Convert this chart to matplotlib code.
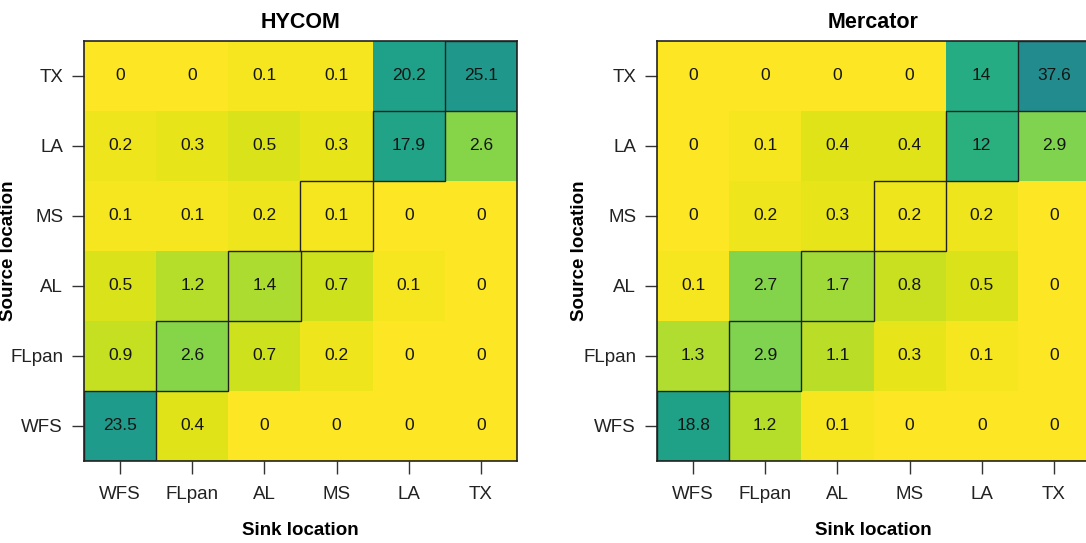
import numpy as np
import matplotlib
matplotlib.use("Agg")
import matplotlib.pyplot as plt
from matplotlib.colors import ListedColormap, FuncNorm
from matplotlib.patches import Rectangle

plt.rcParams['font.family'] = ['Liberation Sans', 'DejaVu Sans']

locations = ["WFS", "FLpan", "AL", "MS", "LA", "TX"]

# rows ordered bottom (WFS) to top (TX); columns WFS..TX
hycom_wfs = [23.5, 0.4, 0, 0, 0, 0]
hycom_flpan = [0.9, 2.6, 0.7, 0.2, 0, 0]
hycom_al = [0.5, 1.2, 1.4, 0.7, 0.1, 0]
hycom_ms = [0.1, 0.1, 0.2, 0.1, 0, 0]
hycom_la = [0.2, 0.3, 0.5, 0.3, 17.9, 2.6]
hycom_tx = [0, 0, 0.1, 0.1, 20.2, 25.1]

merc_wfs = [18.8, 1.2, 0.1, 0, 0, 0]
merc_flpan = [1.3, 2.9, 1.1, 0.3, 0.1, 0]
merc_al = [0.1, 2.7, 1.7, 0.8, 0.5, 0]
merc_ms = [0, 0.2, 0.3, 0.2, 0.2, 0]
merc_la = [0, 0.1, 0.4, 0.4, 12, 2.9]
merc_tx = [0, 0, 0, 0, 14, 37.6]

panels = [
    ("HYCOM", np.array([hycom_wfs, hycom_flpan, hycom_al, hycom_ms, hycom_la, hycom_tx])),
    ("Mercator", np.array([merc_wfs, merc_flpan, merc_al, merc_ms, merc_la, merc_tx])),
]

base = plt.get_cmap("viridis")
cmap = ListedColormap(base(np.linspace(1.0, 0.48, 256)))
vmax = 37.6
norm = FuncNorm((np.log1p, np.expm1), vmin=0, vmax=vmax)

fig = plt.figure(figsize=(10.86, 5.43), dpi=100)
W, H = 1086, 543
boxes = [(84, 41, 433, 420), (657, 41, 433, 420)]
ylabel_x = [17, 588]

for (title, data), (x0, y0, w, h), yl in zip(panels, boxes, ylabel_x):
    ax = fig.add_axes([x0 / W, 1 - (y0 + h) / H, w / W, h / H])
    n = len(locations)
    edges = np.arange(n + 1) - 0.5
    ax.pcolormesh(edges, edges, data, cmap=cmap, norm=norm, shading="flat")
    for i in range(n):
        for j in range(n):
            ax.text(j, i, f"{data[i, j]:g}", ha="center", va="center",
                    fontsize=12.5, color="#151515")
        ax.add_patch(Rectangle((i - 0.5, i - 0.5), 1, 1, fill=False,
                               edgecolor="#222222", linewidth=1.0, zorder=3))
    ax.set_xlim(-0.5, n - 0.5)
    ax.set_ylim(-0.5, n - 0.5)
    ax.set_xticks(range(n))
    ax.set_yticks(range(n))
    ax.set_xticklabels(locations, fontsize=13.5, color="#222222")
    ax.set_yticklabels(locations, fontsize=13.5, color="#222222")
    ax.tick_params(axis="x", length=9, width=1, pad=9, color="#333333")
    ax.tick_params(axis="y", length=9, width=1, pad=6, color="#333333")
    for s in ax.spines.values():
        s.set_linewidth(1.2)
        s.set_color("#222222")
    ax.set_title(title, fontsize=15.5, fontweight="bold", pad=9)
    ax.set_xlabel("Sink location", fontsize=13.5, fontweight="bold", labelpad=14)
    ax.set_ylabel("Source location", fontsize=13.5, fontweight="bold")
    ax.yaxis.set_label_coords((yl - x0) / w, 0.5)

fig.savefig("out.png", dpi=100)
